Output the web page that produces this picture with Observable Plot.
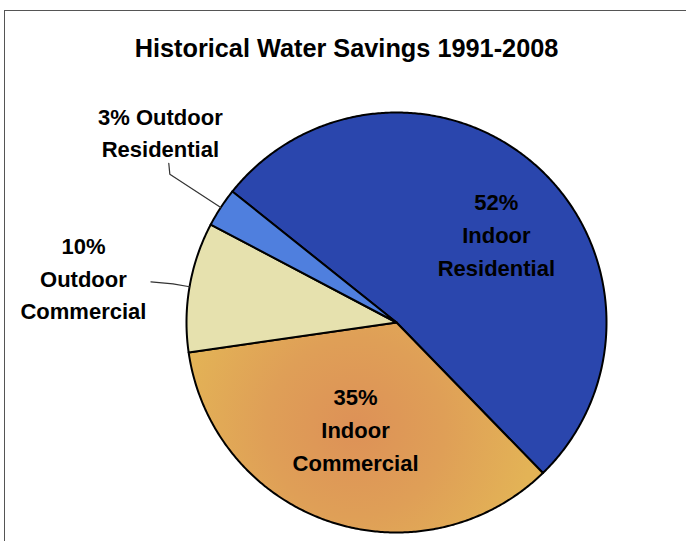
<!DOCTYPE html>
<html><head><meta charset="utf-8">
<script src="https://cdn.jsdelivr.net/npm/d3@7"></script>
<script src="https://cdn.jsdelivr.net/npm/@observablehq/plot@0.6"></script>
<style>
html,body{margin:0;padding:0;background:#fff;}
#wrap{position:relative;width:686px;height:541px;overflow:hidden;background:#fff;}
#border{position:absolute;left:4px;top:10px;right:-10px;bottom:-10px;border-top:1.5px solid #555;border-left:1.5px solid #555;}
#chart{position:absolute;left:0;top:0;}
</style></head><body>
<div id="wrap"><div id="border"></div><div id="chart"></div></div>
<script>
// ---- data ----
const title = "Historical Water Savings 1991-2008";
const categories = ["Indoor Residential", "Indoor Commercial", "Outdoor Commercial", "Outdoor Residential"];
const shares = [52, 35, 10, 3];
const labelTexts = ["52%\nIndoor\nResidential", "35%\nIndoor\nCommercial", "10%\nOutdoor\nCommercial", "3% Outdoor\nResidential"];
const sliceColors = ["#2a46ad", "url(#orangeGrad)", "#e6e1ae", "#4f7fde"];

// ---- layout ----
const W = 686, H = 541;
const cx = 396, cy = 322, R = 210;
const startDeg = -51.4;
const labelLayout = [
  {r: 0.64, da: 5.8},
  {r: 0.537, da: 2.5},
  {r: 1.507, da: -1.4},
  {r: 1.449, da: 5.9}
];
const leaderLayout = [null, null, {elbow: 1.08, ex: -0.105, ey: 0.01}, {elbow: 1.29, ex: -0.005, ey: 0.052}];

const rad = Math.PI / 180;
const start = startDeg * rad;
const arcs = d3.pie().sort(null).startAngle(start).endAngle(start + 2 * Math.PI)(shares);

const slicePts = [];
arcs.forEach((a, i) => {
  slicePts.push({k: categories[i], x: 0, y: 0, fill: sliceColors[i]});
  const n = Math.max(2, Math.ceil((a.endAngle - a.startAngle) / (0.5 * rad)));
  for (let j = 0; j <= n; j++) {
    const t = a.startAngle + (a.endAngle - a.startAngle) * j / n;
    slicePts.push({k: categories[i], x: Math.sin(t), y: Math.cos(t), fill: sliceColors[i]});
  }
});

const labels = arcs.map((a, i) => {
  const m = (a.startAngle + a.endAngle) / 2 + labelLayout[i].da * rad;
  const r = labelLayout[i].r;
  return {x: r * Math.sin(m), y: r * Math.cos(m), text: labelTexts[i]};
});

const leaderPts = [];
arcs.forEach((a, i) => {
  const L = leaderLayout[i];
  if (!L) return;
  const m = (a.startAngle + a.endAngle) / 2;
  const ex = Math.sin(m), ey = Math.cos(m);
  leaderPts.push({k: categories[i], x: ex, y: ey});
  leaderPts.push({k: categories[i], x: ex * L.elbow, y: ey * L.elbow});
  leaderPts.push({k: categories[i], x: ex * L.elbow + L.ex, y: ey * L.elbow + L.ey});
});

const chart = Plot.plot({
  width: W, height: H,
  margin: 0,
  style: {fontFamily: "'Liberation Sans', Arial, sans-serif", background: "transparent", overflow: "visible"},
  x: {domain: [-1, 1], range: [cx - R, cx + R], axis: null},
  y: {domain: [-1, 1], range: [cy + R, cy - R], axis: null},
  color: {type: "identity"},
  marks: [
    Plot.line(slicePts, {x: "x", y: "y", z: "k", fill: "fill", stroke: "#000", strokeWidth: 2, strokeLinejoin: "round", curve: "linear-closed"}),
    Plot.line(leaderPts, {x: "x", y: "y", z: "k", stroke: "#333", strokeWidth: 1.2}),
    Plot.text(labels, {x: "x", y: "y", text: "text", fontSize: 22, fontWeight: "bold", lineHeight: 1.48, lineAnchor: "middle", fill: "#000"}),
    Plot.text([title], {text: d => d, frameAnchor: "top", dx: 3, dy: 56, lineAnchor: "bottom", fontSize: 25.3, fontWeight: "bold", fill: "#000"})
  ]
});

// radial gradient for the orange slice, positioned through the scales
const xs = chart.scale("x"), ys = chart.scale("y");
const gcx = xs.apply(labels[1].x), gcy = ys.apply(labels[1].y);
const ns = "http://www.w3.org/2000/svg";
const defs = document.createElementNS(ns, "defs");
const grad = document.createElementNS(ns, "radialGradient");
grad.setAttribute("id", "orangeGrad");
grad.setAttribute("gradientUnits", "userSpaceOnUse");
grad.setAttribute("cx", gcx); grad.setAttribute("cy", gcy); grad.setAttribute("r", R * 0.85);
[["0", "#dd9157"], ["0.5", "#df9f57"], ["1", "#e3b356"]].forEach(([o, c]) => {
  const s = document.createElementNS(ns, "stop");
  s.setAttribute("offset", o); s.setAttribute("stop-color", c);
  grad.appendChild(s);
});
defs.appendChild(grad);
chart.insertBefore(defs, chart.firstChild);

document.getElementById("chart").appendChild(chart);
</script>
</body></html>
